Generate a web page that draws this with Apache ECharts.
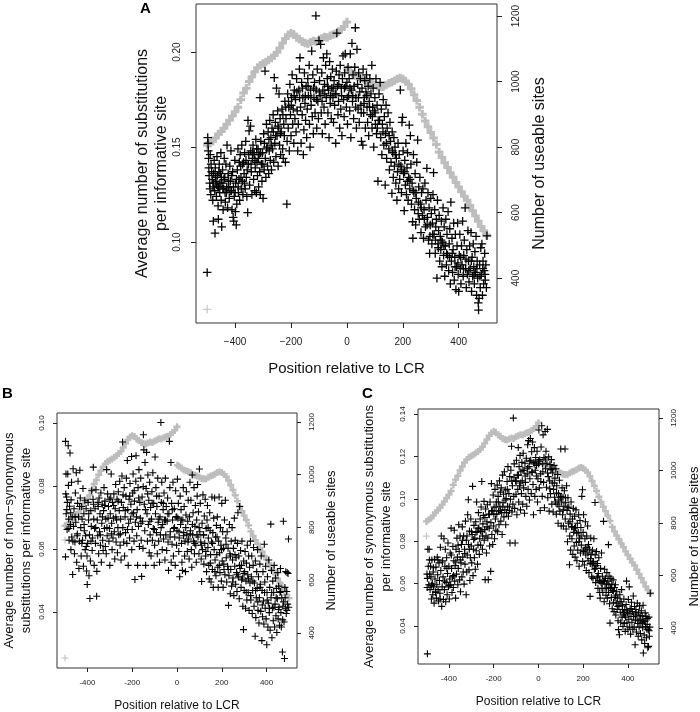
<!DOCTYPE html>
<html><head><meta charset="utf-8">
<script src="https://cdn.jsdelivr.net/npm/echarts@6/dist/echarts.min.js"></script>
<style>html,body{margin:0;padding:0;background:#fff}#c{width:700px;height:712px}</style>
</head><body><div id="c"></div>
<script>
const xTicks=[-400,-200,0,200,400];
const siteTicks=[400,600,800,1000,1200];
const aTicks=[0.10,0.15,0.20];
const bTicks=[0.04,0.06,0.08,0.10];
const cTicks=[0.04,0.06,0.08,0.10,0.12,0.14];
const sitePoints=[[-500,806],[-490,812],[-480,818],[-470,828],[-460,840],[-450,848],[-440,858],[-430,870],[-420,882],[-410,895],[-400,908],[-390,922],[-380,945],[-370,965],[-360,980],[-350,1000],[-340,1015],[-330,1030],[-320,1042],[-310,1050],[-300,1055],[-290,1060],[-280,1066],[-270,1072],[-260,1080],[-250,1090],[-240,1103],[-230,1118],[-220,1132],[-210,1143],[-200,1148],[-190,1145],[-180,1135],[-170,1130],[-160,1122],[-150,1118],[-140,1116],[-130,1120],[-120,1124],[-110,1122],[-100,1128],[-90,1132],[-80,1136],[-70,1135],[-60,1140],[-50,1144],[-40,1146],[-30,1152],[-20,1160],[-10,1168],[0,1182],[2,1036],[10,1032],[20,1025],[30,1018],[40,1015],[50,1012],[60,1008],[70,1002],[80,998],[90,995],[100,990],[110,986],[120,985],[130,984],[140,990],[150,995],[160,998],[170,1003],[180,1008],[190,1011],[200,1008],[210,1002],[220,992],[230,978],[240,960],[250,942],[260,922],[270,900],[280,880],[290,862],[300,845],[310,828],[320,808],[330,785],[340,768],[350,752],[360,738],[370,722],[380,708],[390,692],[400,678],[410,664],[420,650],[430,638],[440,622],[450,606],[460,590],[470,574],[480,558],[490,545],[500,532]];
const aSiteOutliers=[[-500,305]];
const bSiteOutliers=[[-500,305],[-500,752]];
const cSiteOutliers=[[-500,750]];
const panelAPoints=[[-500,.084],[-498,.155],[-497,.152],[-496,.148],[-495,.144],[-494,.139],[-493,.135],[-491,.131],[-490,.128],[-489,.146],[-487,.125],[-486,.141],[-484,.137],[-482,.133],[-480,.122],[-479,.129],[-478,.111],[-477,.136],[-475,.143],[-473,.127],[-472,.1047],[-471,.139],[-469,.132],[-467,.124],[-465,.145],[-463,.135],[-461,.119],[-460,.112],[-459,.129],[-457,.141],[-455,.126],[-453,.136],[-451,.147],[-450,.122],[-448,.108],[-447,.131],[-445,.138],[-443,.117],[-441,.128],[-439,.144],[-437,.134],[-435,.121],[-433,.141],[-431,.126],[-429,.151],[-427,.118],[-425,.136],[-423,.129],[-421,.123],[-419,.14],[-417,.132],[-415,.148],[-413,.127],[-411,.117],[-409,.137],[-407,.113],[-405,.111],[-403,.124],[-401,.143],[-399,.116],[-398,.131],[-396,.109],[-394,.12],[-392,.138],[-390,.149],[-388,.126],[-386,.133],[-384,.122],[-382,.146],[-380,.14],[-378,.128],[-376,.151],[-374,.132],[-372,.125],[-370,.142],[-368,.136],[-366,.147],[-364,.128],[-362,.153],[-360,.134],[-358,.124],[-355,.1155],[-354,.164],[-352,.141],[-350,.1585],[-348,.13],[-345,.161],[-344,.148],[-342,.137],[-340,.125],[-338,.144],[-336,.151],[-334,.133],[-332,.146],[-330,.127],[-328,.139],[-326,.154],[-324,.126],[-322,.142],[-320,.135],[-318,.149],[-316,.129],[-314,.146],[-312,.137],[-311,.176],[-310,.125],[-308,.153],[-306,.141],[-304,.132],[-302,.147],[-300,.123],[-298,.157],[-296,.138],[-293,.19],[-292,.144],[-290,.134],[-288,.162],[-286,.15],[-284,.14],[-282,.158],[-280,.136],[-278,.148],[-276,.164],[-274,.143],[-272,.155],[-270,.138],[-268,.16],[-266,.149],[-264,.167],[-262,.142],[-260,.1865],[-258,.152],[-256,.163],[-254,.145],[-252,.181],[-250,.156],[-248,.169],[-246,.14],[-244,.16],[-243,.178],[-241,.151],[-239,.165],[-237,.146],[-235,.158],[-232,.17],[-230,.149],[-228,.144],[-226,.162],[-224,.156],[-222,.174],[-220,.142],[-218,.165],[-215,.12],[-214,.153],[-212,.178],[-210,.16],[-208,.171],[-206,.148],[-204,.183],[-202,.167],[-200,.156],[-198,.176],[-196,.188],[-194,.162],[-192,.17],[-190,.152],[-188,.18],[-186,.165],[-184,.175],[-182,.158],[-180,.186],[-178,.169],[-176,.148],[-174,.162],[-172,.18],[-170,.191],[-168,.197],[-166,.171],[-164,.152],[-162,.184],[-160,.167],[-158,.176],[-156,.146],[-154,.159],[-152,.189],[-150,.173],[-148,.164],[-146,.182],[-144,.155],[-142,.17],[-140,.186],[-138,.177],[-135,.193],[-134,.162],[-132,.15],[-130,.18],[-128,.172],[-126,.2005],[-124,.166],[-122,.188],[-120,.157],[-118,.176],[-116,.184],[-114,.168],[-111,.2191],[-110,.18],[-108,.16],[-106,.191],[-104,.174],[-102,.165],[-100,.206],[-98,.185],[-96,.177],[-94,.204],[-92,.168],[-90,.189],[-88,.157],[-86,.18],[-84,.197],[-82,.171],[-80,.183],[-78,.162],[-76,.193],[-74,.176],[-72,.199],[-70,.186],[-68,.168],[-66,.18],[-64,.155],[-62,.195],[-60,.173],[-58,.187],[-56,.165],[-54,.181],[-52,.191],[-50,.176],[-48,.163],[-46,.185],[-44,.172],[-42,.178],[-40,.152],[-38,.19],[-36,.21],[-34,.182],[-32,.167],[-30,.174],[-28,.188],[-26,.16],[-24,.193],[-22,.17],[-20,.181],[-18,.156],[-16,.186],[-14,.198],[-12,.175],[-10,.166],[-8,.189],[-6,.199],[-4,.182],[-2,.171],[0,.184],[2,.162],[4,.192],[6,.177],[8,.186],[10,.169],[12,.199],[14,.155],[16,.18],[18,.2046],[20,.174],[22,.188],[24,.165],[26,.182],[28,.192],[30,.2128],[32,.176],[34,.16],[36,.2014],[38,.183],[40,.17],[42,.189],[44,.163],[46,.179],[48,.186],[50,.172],[52,.153],[54,.181],[57,.151],[58,.191],[60,.168],[62,.176],[64,.185],[66,.16],[68,.179],[70,.188],[72,.171],[74,.163],[76,.182],[78,.156],[80,.174],[82,.186],[84,.167],[86,.178],[89,.193],[90,.16],[92,.171],[94,.181],[96,.15],[98,.169],[100,.176],[102,.162],[104,.186],[106,.157],[108,.172],[111,.132],[112,.164],[115,.178],[119,.184],[121,.155],[123,.17],[125,.146],[127,.162],[130,.175],[132,.151],[134,.166],[137,.13],[138,.157],[140,.172],[142,.144],[144,.16],[147,.168],[150,.149],[152,.138],[154,.163],[156,.153],[158,.142],[161,.1256],[162,.158],[164,.147],[166,.134],[168,.155],[170,.14],[172,.15],[175,.131],[177,.144],[179,.122],[181,.137],[183,.152],[185,.128],[187,.146],[189,.133],[191,.18],[193,.14],[195,.126],[197,.163],[199,.1656],[201,.148],[203,.136],[205,.1165],[207,.143],[209,.13],[211,.152],[213,.125],[215,.139],[217,.147],[219,.122],[221,.134],[223,.1616],[225,.128],[227,.156],[229,.141],[231,.12],[233,.131],[235,.1107],[236,.102],[238,.146],[240,.126],[242,.117],[244,.136],[246,.109],[248,.123],[250,.142],[253,.1537],[255,.115],[257,.129],[259,.112],[261,.134],[263,.12],[265,.105],[267,.126],[270,.114],[272,.128],[274,.102],[276,.117],[279,.131],[281,.108],[283,.122],[286,.1388],[288,.113],[290,.126],[292,.101],[294,.118],[296,.094],[298,.109],[300,.123],[302,.115],[304,.099],[306,.11],[308,.125],[310,.1365],[312,.104],[314,.117],[316,.094],[318,.108],[320,.112],[322,.081],[324,.122],[326,.099],[328,.106],[330,.114],[332,.09],[334,.103],[336,.096],[338,.111],[340,.087],[342,.1],[344,.118],[346,.093],[348,.108],[350,.082],[352,.098],[354,.112],[356,.088],[358,.104],[360,.093],[362,.116],[364,.085],[366,.099],[368,.107],[370,.078],[372,.121],[374,.09],[376,.102],[378,.084],[380,.096],[382,.11],[384,.08],[386,.092],[388,.104],[390,.075],[392,.087],[394,.098],[396,.11],[398,.083],[400,.074],[402,.093],[404,.104],[406,.086],[408,.078],[410,.098],[412,.088],[414,.111],[416,.082],[418,.093],[420,.101],[423,.118],[425,.086],[427,.076],[429,.096],[431,.083],[433,.106],[435,.09],[437,.079],[439,.098],[441,.086],[444,.105],[446,.074],[448,.092],[450,.082],[452,.099],[454,.087],[456,.078],[458,.095],[460,.084],[462,.103],[464,.072],[466,.09],[468,.081],[470,.068],[471,.0642],[473,.0704],[475,.088],[477,.076],[479,.097],[481,.083],[483,.099],[485,.072],[487,.09],[489,.078],[491,.085],[493,.094],[495,.08],[497,.088],[499,.076],[501,.1033]];
const panelAExtra=[[-477,.131],[-470,.134],[-466,.13],[-462,.129],[-458,.137],[-454,.131],[-449,.134],[-444,.128],[-440,.133],[-436,.126],[-430,.129],[-424,.132],[-418,.127],[-412,.135],[-406,.129],[-400,.126],[-395,.133],[-389,.129],[-385,.142],[-379,.134],[-373,.141],[-367,.131],[-361,.143],[-357,.138],[-351,.146],[-343,.141],[-337,.147],[-329,.143],[-323,.149],[-317,.144],[-309,.147],[-301,.141],[-295,.152],[-287,.149],[-279,.154],[-271,.151],[-263,.158],[-255,.156],[-247,.161],[-238,.157],[-229,.167],[-219,.171],[-209,.174],[-199,.172],[-189,.177],[-179,.179],[-169,.176],[-159,.181],[-149,.177],[-139,.182],[-129,.176],[-119,.181],[-109,.175],[-99,.179],[-89,.174],[-79,.178],[-69,.182],[-59,.177],[-49,.181],[-39,.178],[-29,.183],[-19,.177],[-9,.181],[1,.176],[11,.181],[21,.177],[31,.171],[41,.176],[51,.168],[61,.173],[71,.177],[81,.171],[91,.166],[101,.168],[109,.16],[117,.164],[129,.158],[141,.152],[151,.156],[163,.148],[173,.146],[186,.141],[196,.138],[206,.137],[216,.132],[226,.133],[237,.127],[247,.126],[256,.121],[266,.118],[277,.112],[287,.109],[297,.103],[307,.104],[317,.101],[327,.097],[337,.101],[347,.098],[357,.094],[367,.092],[377,.094],[387,.087],[397,.089],[407,.092],[417,.086],[426,.091],[436,.085],[445,.09],[455,.083],[465,.086],[476,.082],[486,.086],[494,.083]];
const panelBPoints=[[-498,.0942],[-496,.0838],[-498,.0575],[-497,.0775],[-495,.0712],[-493,.0765],[-491,.0662],[-490,.0748],[-488,.0838],[-486,.0928],[-485,.0802],[-484,.0695],[-482,.0628],[-480,.0736],[-478,.0905],[-476,.0678],[-474,.0598],[-473,.0756],[-471,.0812],[-470,.0638],[-468,.0702],[-466,.0519],[-464,.0855],[-462,.0672],[-460,.0728],[-458,.0585],[-456,.0622],[-454,.0778],[-452,.0685],[-450,.0842],[-448,.0558],[-446,.0642],[-444,.0745],[-442,.0815],[-440,.0702],[-438,.0538],[-436,.0625],[-434,.085],[-432,.0762],[-430,.0668],[-428,.0578],[-426,.0735],[-424,.0695],[-422,.0628],[-420,.0792],[-418,.0545],[-416,.0712],[-414,.0658],[-412,.0755],[-410,.0598],[-408,.0642],[-406,.0728],[-404,.053],[-402,.0578],[-401,.0487],[-399,.0618],[-397,.0748],[-395,.0692],[-393,.0515],[-391,.0645],[-389,.0443],[-387,.0562],[-385,.0722],[-383,.0672],[-381,.0785],[-379,.0595],[-377,.0635],[-375,.0758],[-374,.086],[-372,.0695],[-370,.0548],[-368,.0665],[-366,.0728],[-364,.0618],[-362,.0788],[-359,.045],[-358,.0529],[-356,.0692],[-354,.0642],[-352,.0735],[-350,.0585],[-348,.0762],[-346,.0655],[-344,.0712],[-342,.0612],[-340,.0778],[-338,.0558],[-336,.0682],[-334,.0742],[-332,.0628],[-330,.0595],[-328,.0722],[-326,.0795],[-324,.0665],[-322,.0752],[-320,.0608],[-318,.0695],[-316,.0585],[-314,.0852],[-312,.0642],[-310,.0775],[-308,.0698],[-306,.0735],[-304,.0625],[-302,.0665],[-300,.0548],[-298,.0712],[-296,.0762],[-294,.0838],[-292,.0682],[-290,.0598],[-288,.0748],[-286,.0635],[-284,.0698],[-282,.0775],[-280,.0655],[-278,.0568],[-276,.0728],[-274,.0805],[-272,.0622],[-270,.0692],[-268,.0758],[-266,.0588],[-264,.0668],[-262,.0782],[-260,.0645],[-258,.0722],[-256,.0815],[-254,.0612],[-252,.0695],[-250,.0565],[-248,.0748],[-246,.0832],[-243,.094],[-242,.0668],[-240,.0732],[-238,.0622],[-236,.0795],[-234,.0578],[-232,.0702],[-230,.0652],[-228,.0768],[-226,.0825],[-224,.0618],[-222,.0881],[-220,.0725],[-218,.0548],[-216,.0682],[-214,.0758],[-212,.0635],[-210,.0808],[-208,.0695],[-206,.0742],[-203,.0894],[-202,.0598],[-200,.0662],[-198,.0778],[-196,.0838],[-194,.0715],[-192,.0625],[-190,.0752],[-188,.0503],[-186,.0685],[-184,.0815],[-183,.0896],[-180,.0642],[-178,.0725],[-176,.0548],[-174,.0795],[-172,.0672],[-170,.0852],[-168,.0608],[-166,.0748],[-164,.0698],[-162,.0825],[-160,.0628],[-158,.0513],[-156,.0765],[-154,.0688],[-152,.0602],[-150,.0963],[-148,.0915],[-146,.0742],[-144,.0658],[-143,.0875],[-140,.0548],[-138,.0792],[-136,.0907],[-134,.0712],[-132,.0625],[-130,.0835],[-128,.0678],[-126,.0755],[-124,.0588],[-122,.0812],[-120,.0645],[-118,.0732],[-116,.0578],[-114,.0695],[-112,.0782],[-110,.0628],[-108,.0842],[-106,.0665],[-104,.0745],[-102,.0548],[-100,.0612],[-98,.0892],[-96,.0712],[-94,.0795],[-92,.0652],[-90,.0735],[-88,.0585],[-86,.0825],[-84,.0685],[-82,.0625],[-80,.0768],[-78,.0558],[-76,.0702],[-74,.0645],[-72,.1002],[-70,.0748],[-68,.0812],[-66,.0598],[-64,.0678],[-62,.0725],[-60,.0632],[-58,.0778],[-56,.0692],[-54,.0565],[-52,.0825],[-50,.0645],[-48,.0735],[-46,.0595],[-44,.0688],[-42,.0762],[-40,.0622],[-38,.0532],[-36,.0712],[-34,.0942],[-32,.0795],[-30,.0655],[-27,.0875],[-26,.0558],[-24,.0745],[-22,.0615],[-20,.0692],[-18,.0812],[-16,.0578],[-14,.0665],[-12,.0728],[-10,.0638],[-8,.0548],[-6,.0785],[-4,.0702],[-2,.0612],[0,.0658],[2,.0822],[4,.0698],[6,.0745],[8,.0592],[10,.0635],[12,.0512],[14,.0768],[16,.0678],[18,.0725],[20,.0618],[22,.0558],[24,.0532],[26,.0692],[28,.0795],[30,.0652],[32,.0735],[34,.0578],[36,.0625],[38,.0528],[40,.0708],[42,.0782],[44,.0645],[46,.0592],[48,.0688],[50,.0755],[52,.0632],[54,.0568],[56,.0702],[58,.0812],[60,.0658],[62,.0755],[64,.0598],[66,.0542],[68,.0835],[70,.0645],[72,.0715],[74,.0625],[76,.0795],[78,.0585],[80,.0672],[82,.0738],[84,.0612],[86,.0558],[88,.0692],[90,.0768],[92,.0805],[94,.0638],[96,.0718],[98,.0585],[100,.0854],[102,.0655],[104,.0745],[106,.0622],[108,.0568],[110,.0497],[112,.0682],[114,.0598],[116,.0772],[118,.0645],[120,.0552],[122,.0705],[124,.0618],[126,.0758],[128,.0578],[130,.0665],[132,.0528],[134,.0692],[136,.0738],[138,.0605],[140,.0635],[142,.0548],[144,.0505],[146,.0715],[148,.0658],[150,.0582],[152,.0495],[154,.0622],[156,.0765],[158,.0535],[160,.0652],[162,.0478],[164,.0698],[166,.0598],[168,.0762],[170,.0565],[172,.0638],[174,.0515],[176,.0675],[178,.0582],[180,.0702],[182,.0542],[184,.0478],[186,.0625],[188,.0765],[190,.0588],[192,.0525],[194,.0668],[196,.0612],[198,.0498],[200,.0745],[202,.0562],[204,.0655],[206,.0478],[208,.0602],[210,.0535],[212,.0692],[214,.0518],[216,.0755],[218,.0635],[220,.0572],[222,.0495],[224,.0655],[226,.0545],[228,.0602],[230,.0421],[232,.0515],[234,.0678],[236,.0585],[238,.0458],[240,.0535],[242,.0625],[244,.0482],[246,.0668],[248,.0565],[250,.0508],[252,.0602],[254,.0452],[256,.0698],[258,.0545],[260,.0628],[262,.0488],[264,.0572],[266,.0525],[268,.0465],[270,.0618],[272,.0715],[274,.0512],[276,.0578],[278,.0442],[280,.0735],[282,.0538],[284,.0595],[286,.0478],[288,.0548],[290,.0625],[292,.0508],[294,.0418],[297,.0344],[298,.0562],[300,.0468],[302,.0528],[304,.0592],[306,.0412],[308,.0498],[310,.0555],[312,.0438],[314,.0612],[316,.0518],[318,.0462],[320,.0578],[322,.0405],[324,.0542],[326,.0492],[328,.0625],[330,.0438],[332,.0512],[334,.0578],[336,.0395],[338,.0468],[340,.0548],[342,.0605],[344,.0418],[346,.0492],[349,.0323],[350,.0562],[352,.0382],[354,.0445],[356,.0528],[358,.0475],[360,.0598],[362,.0405],[364,.0512],[366,.0365],[368,.0445],[370,.0552],[372,.0488],[374,.0402],[376,.0578],[379,.0309],[380,.0468],[382,.0385],[384,.0528],[386,.0435],[388,.0362],[390,.0615],[392,.0495],[394,.0412],[396,.0545],[398,.0378],[401,.0296],[402,.0462],[404,.0512],[406,.0352],[408,.0428],[410,.0565],[412,.0398],[414,.0478],[416,.0342],[419,.0679],[420,.0445],[422,.0532],[424,.0318],[426,.0412],[428,.0498],[430,.0372],[432,.0462],[434,.0548],[436,.0352],[438,.0425],[440,.0508],[442,.0388],[444,.0475],[446,.0335],[448,.0442],[450,.0525],[452,.0378],[454,.0482],[456,.0415],[458,.0358],[460,.0462],[462,.0538],[464,.0398],[466,.0352],[468,.0445],[471,.0273],[472,.0375],[475,.0688],[476,.0432],[478,.0368],[480,.0252],[482,.0478],[484,.0412],[486,.0528],[488,.0395],[490,.0465],[492,.0525],[494,.0425],[496,.0522],[498,.0632],[499,.0415]];
const panelBExtra=[[-492,.0725],[-483,.0665],[-475,.0715],[-465,.0625],[-455,.0702],[-445,.0648],[-435,.0735],[-425,.0618],[-415,.0678],[-405,.0608],[-394,.0712],[-384,.0625],[-373,.0742],[-363,.0668],[-353,.0748],[-343,.0645],[-333,.0702],[-323,.0738],[-313,.0668],[-303,.0758],[-293,.0648],[-283,.0738],[-273,.0702],[-263,.0752],[-253,.0648],[-241,.0772],[-231,.0722],[-221,.0662],[-211,.0768],[-201,.0712],[-191,.0785],[-181,.0702],[-171,.0762],[-161,.0682],[-151,.0798],[-141,.0725],[-131,.0775],[-121,.0688],[-111,.0745],[-101,.0662],[-91,.0768],[-81,.0695],[-71,.0668],[-61,.0745],[-51,.0692],[-41,.0712],[-31,.0638],[-21,.0725],[-11,.0668],[-1,.0702],[9,.0655],[19,.0692],[29,.0642],[39,.0668],[49,.0622],[59,.0648],[69,.0678],[79,.0618],[89,.0645],[99,.0668],[109,.0612],[119,.0645],[129,.0592],[139,.0668],[149,.0555],[159,.0618],[169,.0528],[179,.0638],[189,.0548],[199,.0598],[209,.0552],[219,.0615],[229,.0535],[239,.0578],[249,.0495],[259,.0582],[269,.0518],[279,.0548],[289,.0502],[299,.0522],[309,.0462],[319,.0505],[329,.0452],[339,.0498],[351,.0468],[361,.0432],[371,.0478],[381,.0422],[391,.0462],[403,.0438],[413,.0412],[423,.0462],[433,.0415],[443,.0445],[453,.0408],[463,.0465],[473,.0418],[483,.0445],[491,.0405]];
const panelCPoints=[[-496,.0269],[-498,.0645],[-497,.0582],[-496,.0625],[-494,.0762],[-492,.0682],[-490,.0595],[-488,.0762],[-486,.0645],[-484,.0572],[-482,.0682],[-480,.0632],[-478,.0528],[-476,.0712],[-474,.0602],[-472,.0548],[-470,.0655],[-468,.0585],[-466,.0508],[-464,.0715],[-462,.0622],[-460,.0562],[-458,.0678],[-456,.0532],[-454,.0595],[-452,.0725],[-450,.0642],[-448,.0572],[-446,.0518],[-444,.0698],[-442,.0615],[-440,.0555],[-438,.0772],[-436,.0662],[-434,.0825],[-432,.0493],[-430,.0585],[-428,.0708],[-426,.0632],[-424,.0525],[-422,.0812],[-420,.0572],[-418,.0682],[-416,.0762],[-414,.0515],[-412,.0605],[-410,.0722],[-408,.0548],[-406,.0648],[-404,.0792],[-402,.0585],[-400,.0682],[-398,.0528],[-396,.0622],[-394,.0745],[-392,.0595],[-390,.0862],[-388,.0672],[-386,.0558],[-384,.0632],[-382,.0775],[-380,.0582],[-378,.0708],[-376,.0852],[-374,.0612],[-372,.0685],[-370,.0532],[-368,.0762],[-366,.0645],[-364,.0815],[-362,.0725],[-360,.0595],[-358,.0672],[-356,.0878],[-354,.0752],[-352,.0618],[-350,.0825],[-348,.0562],[-346,.0698],[-344,.0785],[-342,.0632],[-340,.0868],[-338,.0725],[-336,.0655],[-334,.0825],[-332,.0598],[-330,.0762],[-328,.0692],[-326,.0895],[-323,.0548],[-322,.0805],[-320,.0655],[-318,.0735],[-316,.0925],[-313,.0996],[-312,.0785],[-310,.0665],[-308,.0848],[-306,.0615],[-304,.0722],[-302,.0905],[-300,.0778],[-298,.0698],[-296,.0832],[-294,.1059],[-292,.0638],[-290,.0762],[-288,.0875],[-286,.0722],[-284,.0815],[-282,.0668],[-280,.0892],[-278,.0755],[-276,.0985],[-274,.0845],[-272,.0692],[-270,.0782],[-268,.0935],[-266,.0862],[-264,.0738],[-262,.0812],[-260,.0905],[-258,.0782],[-256,.0962],[-253,.1082],[-252,.0845],[-250,.0762],[-248,.0882],[-246,.0922],[-243,.0988],[-242,.0805],[-240,.0855],[-238,.0619],[-236,.0952],[-234,.0825],[-232,.0745],[-230,.0892],[-228,.0972],[-226,.0815],[-224,.0619],[-222,.0928],[-220,.0862],[-218,.0778],[-216,.0985],[-213,.0658],[-212,.0888],[-210,.1072],[-208,.0832],[-206,.0945],[-204,.0785],[-202,.1018],[-200,.0872],[-198,.0962],[-196,.0812],[-194,.1045],[-192,.0905],[-190,.0852],[-188,.0985],[-186,.0928],[-184,.1065],[-182,.0845],[-180,.1012],[-178,.0942],[-176,.0878],[-174,.1085],[-172,.0965],[-170,.1032],[-168,.0895],[-166,.1052],[-164,.0935],[-162,.0832],[-160,.1112],[-158,.0982],[-156,.1022],[-154,.0915],[-152,.1128],[-150,.0948],[-148,.1042],[-146,.0878],[-144,.1002],[-142,.0935],[-140,.1082],[-138,.0965],[-136,.1152],[-134,.0918],[-132,.1025],[-130,.0962],[-128,.1105],[-127,.0792],[-125,.0998],[-123,.1135],[-120,.1248],[-118,.0938],[-116,.1062],[-114,.0975],[-112,.1381],[-110,.1012],[-108,.1165],[-106,.0955],[-104,.0792],[-102,.1085],[-100,.1022],[-98,.1182],[-96,.0925],[-94,.1112],[-92,.1045],[-90,.1242],[-88,.0985],[-86,.1152],[-84,.1062],[-82,.1205],[-80,.0948],[-78,.1128],[-76,.1025],[-74,.1172],[-72,.1085],[-70,.0975],[-68,.1215],[-66,.1052],[-64,.1135],[-62,.0932],[-60,.1168],[-58,.1078],[-56,.1012],[-54,.1192],[-52,.0965],[-50,.1118],[-48,.1255],[-46,.1045],[-44,.1275],[-42,.1152],[-40,.0995],[-38,.1095],[-36,.1285],[-34,.1182],[-32,.1025],[-30,.1222],[-28,.1125],[-26,.1268],[-24,.1068],[-22,.0925],[-20,.1172],[-18,.1242],[-16,.1012],[-14,.1135],[-12,.1195],[-10,.1045],[-8,.1158],[-6,.1225],[-4,.0985],[-2,.1095],[0,.1178],[2,.1325],[4,.1052],[6,.1185],[8,.0945],[10,.1118],[12,.1245],[15,.1345],[17,.1012],[19,.1165],[21,.1302],[23,.1078],[25,.1195],[27,.0958],[30,.1318],[32,.1142],[34,.1225],[36,.1055],[38,.1168],[40,.1328],[42,.1005],[44,.1105],[46,.1198],[48,.0942],[50,.1085],[52,.1162],[54,.1025],[56,.1138],[58,.1185],[60,.0975],[62,.1075],[64,.1122],[66,.0938],[68,.1045],[70,.1158],[72,.1008],[74,.1098],[76,.0985],[78,.1142],[80,.0928],[82,.1062],[84,.0975],[86,.1115],[88,.0885],[90,.1025],[92,.0965],[94,.1088],[96,.0942],[98,.1005],[100,.1235],[102,.0872],[104,.0985],[106,.1052],[108,.0925],[110,.1008],[112,.0872],[114,.0965],[116,.1038],[119,.1235],[120,.0905],[122,.0982],[124,.0858],[126,.1062],[128,.0945],[130,.0798],[132,.1005],[134,.0885],[136,.0962],[139,.0689],[140,.0825],[142,.0928],[144,.0758],[146,.0985],[148,.0868],[150,.0812],[152,.0905],[154,.0738],[156,.0955],[158,.0842],[160,.0778],[162,.0918],[164,.0725],[166,.0865],[168,.0948],[170,.0795],[172,.0708],[174,.0885],[176,.0758],[178,.0842],[180,.0925],[182,.0682],[184,.0815],[186,.0898],[188,.0745],[190,.0865],[192,.0782],[194,.1012],[197,.1043],[198,.0705],[200,.0842],[202,.0925],[204,.0758],[206,.0688],[208,.0812],[210,.0892],[212,.0735],[214,.0662],[216,.0825],[218,.0772],[220,.0872],[222,.0708],[224,.0785],[226,.0652],[228,.0762],[231,.054],[232,.0695],[234,.0815],[236,.0738],[238,.0632],[240,.0692],[242,.0758],[244,.0625],[246,.0705],[248,.0812],[250,.0668],[253,.0983],[254,.0735],[256,.0605],[258,.0685],[260,.0752],[262,.0628],[264,.0695],[266,.0578],[268,.0648],[270,.0722],[272,.0615],[274,.0558],[276,.0532],[278,.0672],[280,.0605],[282,.0745],[284,.0578],[286,.0635],[288,.0558],[291,.0894],[292,.0612],[294,.0515],[296,.0668],[298,.0578],[300,.0625],[302,.0545],[304,.0598],[306,.0652],[308,.0532],[310,.0612],[313,.0784],[314,.0558],[316,.0635],[318,.0505],[320,.0414],[322,.0582],[324,.0625],[326,.0535],[328,.0598],[330,.0482],[332,.0568],[334,.0618],[336,.0512],[338,.0468],[340,.0582],[342,.0535],[344,.0595],[346,.0452],[348,.0508],[350,.0562],[352,.0478],[354,.0532],[356,.0425],[358,.0383],[360,.0495],[362,.0359],[364,.0548],[366,.0465],[368,.0418],[370,.0515],[372,.0572],[374,.0442],[376,.0495],[378,.0398],[380,.0462],[382,.0528],[384,.0412],[386,.0478],[388,.0375],[390,.0442],[392,.0502],[394,.0612],[396,.0415],[398,.0465],[400,.0385],[402,.0525],[404,.0432],[406,.0585],[408,.0395],[410,.0482],[412,.0362],[414,.0445],[416,.0512],[418,.0418],[420,.0468],[422,.0385],[424,.0542],[426,.0445],[428,.0395],[430,.0492],[432,.0312],[434,.0428],[436,.0478],[438,.0372],[440,.0452],[442,.0508],[444,.0412],[446,.0352],[448,.0465],[450,.0395],[452,.0495],[454,.0432],[456,.0365],[458,.0412],[460,.0472],[462,.0335],[464,.0448],[466,.0392],[468,.0498],[469,.0273],[471,.0425],[473,.0358],[475,.0318],[477,.0462],[479,.0398],[481,.0445],[483,.0345],[485,.0385],[487,.0435],[489,.0298],[491,.0382],[492,.0304],[494,.0442],[496,.0352],[498,.0395],[500,.0555]];
const panelCExtra=[[-487,.0712],[-477,.0592],[-469,.0675],[-459,.0558],[-449,.0712],[-439,.0528],[-429,.0702],[-419,.0612],[-409,.0672],[-399,.0592],[-389,.0735],[-379,.0638],[-369,.0702],[-359,.0782],[-349,.0712],[-339,.0805],[-329,.0742],[-319,.0825],[-309,.0762],[-299,.0845],[-289,.0808],[-279,.0842],[-269,.0862],[-259,.0848],[-249,.0825],[-239,.0912],[-229,.0868],[-219,.0925],[-209,.0942],[-199,.0928],[-189,.0962],[-179,.0985],[-169,.0945],[-159,.0962],[-149,.0995],[-139,.1045],[-129,.0945],[-119,.1085],[-109,.1102],[-99,.1082],[-89,.1112],[-79,.1075],[-69,.1135],[-59,.1108],[-49,.1145],[-39,.1178],[-29,.1128],[-19,.1165],[-9,.1108],[1,.1165],[11,.1082],[20,.1128],[31,.1188],[41,.1122],[51,.1048],[61,.1142],[71,.1075],[81,.1028],[91,.0995],[101,.1012],[111,.0948],[121,.1005],[131,.0958],[141,.0892],[151,.0868],[161,.0862],[171,.0838],[181,.0798],[191,.0825],[201,.0752],[211,.0768],[221,.0745],[233,.0718],[243,.0698],[255,.0672],[265,.0635],[275,.0612],[285,.0602],[295,.0612],[305,.0578],[315,.0595],[325,.0578],[335,.0565],[345,.0542],[355,.0492],[365,.0515],[375,.0478],[385,.0452],[395,.0475],[405,.0458],[415,.0482],[425,.0445],[435,.0462],[445,.0425],[455,.0448],[465,.0418],[476,.0422],[486,.0408],[495,.0378]];

const FONT='Liberation Sans',INK='#222',PLUS='path://M0 5H10M5 0V10';
const GRIDS=[
 {left:196,top:4,width:301,height:319,xr:[-540,537],ly:[.0574,.2253],ry:[263,1237],lt:aTicks,pts:panelAPoints.concat(panelAExtra),out:aSiteOutliers,
  leftName:'Average number of substitutions\nper informative site',sz:8.5,tf:10,xnf:15,ynf:16,xGap:36,lGap:22,rGap:33,lh:19,lm:14,tl:5,gw:3,bw:1.3,minus:'\u2212'},
 {left:57,top:413,width:240,height:255,xr:[-536,536],ly:[.0222,.1032],ry:[267,1234],lt:bTicks,pts:panelBPoints.concat(panelBExtra),out:bSiteOutliers,
  leftName:'Average number of non\u2212synonymous\nsubstitutions per informative site',sz:7,tf:8,xnf:12,ynf:13,xGap:29,lGap:22,rGap:26,lh:17,lm:11,tl:4,gw:2.4,bw:1.1,minus:'-'},
 {left:418,top:409,width:241,height:255,xr:[-538,539],ly:[.0221,.1424],ry:[263,1234],lt:cTicks,pts:panelCPoints.concat(panelCExtra),out:cSiteOutliers,
  leftName:'Average number of synonymous substitutions\nper informative site',sz:7,tf:8,xnf:12,ynf:13,xGap:29,lGap:23,rGap:27,lh:17,lm:11,tl:4,gw:2.4,bw:1.1,minus:'-'}];
const axisBase=(g,ticks,fmt,rot,nf)=>({
  axisLine:{show:false,onZero:false},splitLine:{show:false},
  axisTick:{show:true,length:g.tl,customValues:ticks,lineStyle:{color:INK,width:1}},
  axisLabel:{show:true,customValues:ticks,formatter:fmt,rotate:rot,margin:g.lm,fontFamily:FONT,fontSize:g.tf,color:INK},
  nameLocation:'middle',nameTextStyle:{fontFamily:FONT,fontSize:nf,color:'#111',lineHeight:g.lh}
});
const grid=[],xAxis=[],yAxis=[],series=[];
GRIDS.forEach((g,i)=>{
  grid.push({left:g.left,top:g.top,width:g.width,height:g.height,show:true,borderColor:'#333',borderWidth:1,backgroundColor:'transparent',outerBoundsMode:'none'});
  xAxis.push(Object.assign(axisBase(g,xTicks,v=>String(Math.round(v)).replace('-',g.minus),0,g.xnf),
    {type:'value',gridIndex:i,min:g.xr[0],max:g.xr[1],name:'Position relative to LCR',nameGap:g.xGap}));
  yAxis.push(Object.assign(axisBase(g,g.lt,v=>v.toFixed(2),90,g.ynf),
    {type:'value',gridIndex:i,position:'left',min:g.ly[0],max:g.ly[1],name:g.leftName,nameRotate:90,nameGap:g.lGap}));
  yAxis.push(Object.assign(axisBase(g,siteTicks,v=>String(Math.round(v)),90,g.ynf),
    {type:'value',gridIndex:i,position:'right',min:g.ry[0],max:g.ry[1],name:'Number of useable sites',nameRotate:90,nameGap:g.rGap}));
  const mk=(data,yIdx,color,w)=>({type:'scatter',xAxisIndex:i,yAxisIndex:yIdx,data,symbol:PLUS,symbolSize:g.sz,silent:true,animation:false,
    itemStyle:{color:'transparent',borderColor:color,borderWidth:w,opacity:1}});
  series.push(mk(sitePoints,i*2+1,'#bdbdbd',g.gw));
  series.push(mk(g.out,i*2+1,'#bdbdbd',1));
  series.push(mk(g.pts,i*2,'#000',g.bw));
});
const letter=(t,l,tp,s)=>({text:t,left:l,top:tp,textStyle:{fontFamily:FONT,fontWeight:'bold',fontSize:s,color:'#000'},padding:0});
const chart=echarts.init(document.getElementById('c'),null,{renderer:'canvas'});
chart.setOption({animation:false,backgroundColor:'#fff',
  title:[letter('A',140,1,15),letter('B',2,386,15),letter('C',362,386,15)],
  grid,xAxis,yAxis,series});
</script></body></html>
